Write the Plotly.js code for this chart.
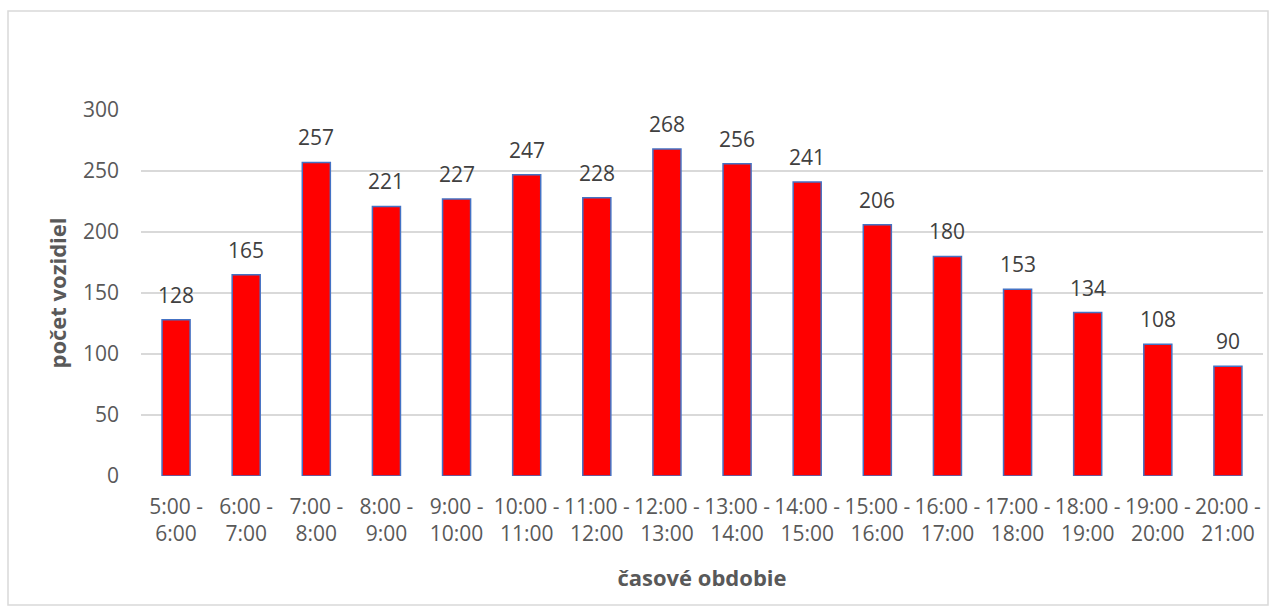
<!DOCTYPE html>
<html>
<head>
<meta charset="utf-8">
<script src="https://cdn.plot.ly/plotly-3.0.1.min.js"></script>
<style>
html,body{margin:0;padding:0;background:#fff;}
#chart{width:1276px;height:612px;}
</style>
</head>
<body>
<div id="chart"></div>
<script>
const categories = ["5:00 -<br>6:00","6:00 -<br>7:00","7:00 -<br>8:00","8:00 -<br>9:00","9:00 -<br>10:00","10:00 -<br>11:00","11:00 -<br>12:00","12:00 -<br>13:00","13:00 -<br>14:00","14:00 -<br>15:00","15:00 -<br>16:00","16:00 -<br>17:00","17:00 -<br>18:00","18:00 -<br>19:00","19:00 -<br>20:00","20:00 -<br>21:00"];
const vehicles = [128,165,257,221,227,247,228,268,256,241,206,180,153,134,108,90];
const yTicks = [0,50,100,150,200,250,300];

const FONT = "Open Sans, 'Liberation Sans', sans-serif";
const trace = {
  type: "bar",
  x: categories,
  y: vehicles,
  marker: {color: "#FF0000", line: {color: "#4472C4", width: 1.5}},
  hoverinfo: "x+y"
};

const labels = categories.map((c, i) => ({
  x: c, y: vehicles[i], xref: "x", yref: "y",
  text: String(vehicles[i]), showarrow: false,
  yanchor: "middle", yshift: 25,
  font: {family: FONT, size: 21, color: "#404040"}
}));

const layout = {
  width: 1276, height: 612,
  margin: {l: 141, r: 13, t: 110, b: 136},
  paper_bgcolor: "#fff", plot_bgcolor: "#fff",
  showlegend: false,
  bargap: 0.6,
  font: {family: FONT, size: 21, color: "#595959"},
  xaxis: {
    type: "category",
    tickfont: {family: FONT, size: 21, color: "#595959"},
    ticklabelstandoff: 16,
    showgrid: false, zeroline: false, showline: false, ticks: "",
    title: {text: "<b>časové obdobie</b>", font: {family: FONT, size: 22, color: "#595959"}, standoff: 24}
  },
  yaxis: {
    range: [0, 300], tickvals: yTicks, ticktext: yTicks.map(String),
    tickfont: {family: FONT, size: 21, color: "#595959"},
    ticklabelstandoff: 21,
    showgrid: true, gridcolor: "#D9D9D9", gridwidth: 1.5,
    zeroline: false, showline: false, ticks: "",
    title: {text: "<b>počet vozidiel</b>", font: {family: FONT, size: 22, color: "#595959"}, standoff: 10}
  },
  annotations: labels,
  shapes: [{
    type: "rect", xref: "paper", yref: "paper",
    x0: (8 - 141) / 1122, x1: (1268 - 141) / 1122,
    y0: (476 - 605) / 366, y1: (476 - 11) / 366,
    line: {color: "#D9D9D9", width: 1.5}, fillcolor: "rgba(0,0,0,0)", layer: "below"
  }]
};

Plotly.newPlot("chart", [trace], layout, {displayModeBar: false, staticPlot: true});
</script>
</body>
</html>
